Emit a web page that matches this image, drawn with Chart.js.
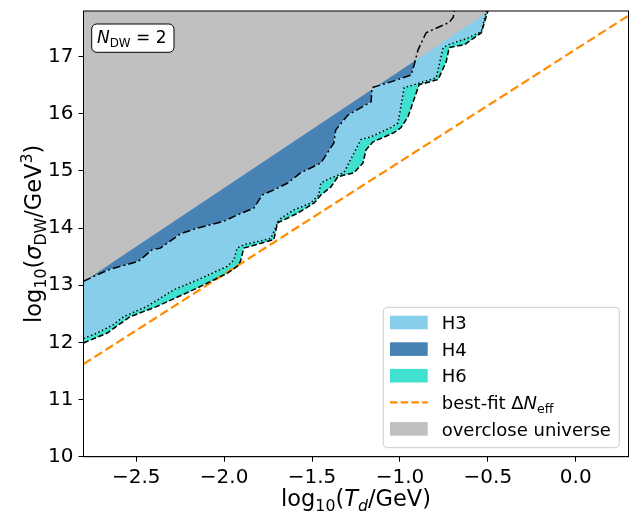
<!DOCTYPE html>
<html>
<head>
<meta charset="utf-8">
<script src="https://cdn.jsdelivr.net/npm/chart.js@4.4.0/dist/chart.umd.min.js"></script>
<style>
  html, body { margin: 0; padding: 0; background: #fff; }
</style>
</head>
<body>
<canvas id="chart" width="633" height="516"></canvas>
<script>
// axis ranges and ticks
const xRange = [-2.8, 0.3];
const yRange = [10, 17.8];
const xTicks = [-2.5, -2.0, -1.5, -1.0, -0.5, 0.0];
const yTicks = [10, 11, 12, 13, 14, 15, 16, 17];

// upper edge of H3 (dash-dot)
const dashDotX = [-2.80, -2.725, -2.649, -2.487, -2.411, -2.363, -2.249, -2.154, -2.002, -1.926,
  -1.831, -1.783, -1.717, -1.638, -1.564, -1.450, -1.376, -1.365, -1.296, -1.262,
  -1.164, -1.159, -1.051, -0.936, -0.919, -0.897, -0.851, -0.720, -0.697, -0.688];
const dashDotY = [13.07, 13.18, 13.28, 13.42, 13.62, 13.65, 13.90, 14.00, 14.12, 14.23,
  14.35, 14.58, 14.67, 14.79, 14.97, 15.14, 15.49, 15.72, 15.98, 16.04,
  16.21, 16.46, 16.56, 16.68, 16.86, 17.12, 17.42, 17.60, 17.69, 17.85];

// lower edge of H3 / upper edge of H6 (dotted)
const dottedX = [-2.80, -2.725, -2.630, -2.573, -2.439, -2.287, -2.154, -1.983, -1.945, -1.926,
  -1.888, -1.735, -1.717, -1.688, -1.603, -1.507, -1.462, -1.450, -1.412, -1.319,
  -1.222, -1.164, -1.051, -1.011, -0.976, -0.919, -0.794, -0.754, -0.725, -0.611,
  -0.537, -0.520, -0.505];
const dottedY = [12.07, 12.16, 12.31, 12.45, 12.63, 12.92, 13.09, 13.33, 13.44, 13.65,
  13.71, 13.82, 13.94, 14.15, 14.32, 14.44, 14.58, 14.79, 14.85, 14.97,
  15.55, 15.60, 15.76, 15.84, 16.46, 16.51, 16.63, 17.16, 17.21, 17.33,
  17.44, 17.65, 17.85];

// lower edge of H6 (dashed)
const dashedX = [-2.80, -2.668, -2.535, -2.382, -2.154, -1.983, -1.926, -1.907, -1.888, -1.717,
  -1.697, -1.583, -1.488, -1.450, -1.393, -1.353, -1.262, -1.210, -1.193, -1.153,
  -1.034, -0.994, -0.954, -0.891, -0.783, -0.737, -0.720, -0.634, -0.537, -0.495];
const dashedY = [11.99, 12.16, 12.45, 12.63, 12.95, 13.21, 13.33, 13.42, 13.65, 13.80,
  14.09, 14.26, 14.44, 14.58, 14.72, 14.90, 14.97, 15.14, 15.37, 15.51,
  15.67, 15.76, 15.95, 16.51, 16.60, 16.91, 17.16, 17.21, 17.42, 17.85];

// overclosure bound and best-fit dNeff line
const overX = [-2.8, -0.3];
const overY = [13.06, 18.19];
const fitX = [-2.8, 0.3];
const fitY = [11.62, 17.72];

const FONT = '"DejaVu Sans", sans-serif';

function pts(xs, ys) {
  return xs.map((x, i) => ({ x: x, y: ys[i] }));
}
// closed polygon: lower edge left->right, then upper edge back
function band(lower, upper) {
  return lower.concat(upper.slice().reverse());
}
const skyLine = (x0, x1) => [{ x: x0, y: yRange[1] + 1 }, { x: x1, y: yRange[1] + 1 }];

const dashDot = pts(dashDotX, dashDotY);
const dotted = pts(dottedX, dottedY);
const dashed = pts(dashedX, dashedY);
const over = pts(overX, overY);

function lineSet(data, color, dash, width) {
  return {
    data: data, showLine: true, fill: false, borderColor: color, borderWidth: width,
    borderDash: dash, pointRadius: 0, tension: 0, order: 0
  };
}
function areaSet(data, color, order) {
  return {
    data: data, showLine: true, fill: 'shape', backgroundColor: color, borderWidth: 0,
    borderColor: 'rgba(0,0,0,0)', pointRadius: 0, tension: 0, order: order
  };
}

function fontFor(p, size) {
  const s = (p.sub || p.sup) ? size * 0.7 : size;
  return (p.it ? 'italic ' : '') + s + 'px ' + FONT;
}
function richWidth(ctx, parts, size) {
  let w = 0;
  parts.forEach(p => { ctx.font = fontFor(p, size); w += ctx.measureText(p.t).width; });
  return w;
}
function drawRich(ctx, parts, x, y, size) {
  let cx = x;
  parts.forEach(p => {
    ctx.font = fontFor(p, size);
    const dy = p.sub ? size * 0.22 : (p.sup ? -size * 0.42 : 0);
    ctx.fillText(p.t, cx, y + dy);
    cx += ctx.measureText(p.t).width;
  });
}
function roundRect(ctx, x, y, w, h, r) {
  ctx.beginPath();
  ctx.moveTo(x + r, y);
  ctx.arcTo(x + w, y, x + w, y + h, r);
  ctx.arcTo(x + w, y + h, x, y + h, r);
  ctx.arcTo(x, y + h, x, y, r);
  ctx.arcTo(x, y, x + w, y, r);
  ctx.closePath();
}

const xTitle = [{ t: 'log' }, { t: '10', sub: 1 }, { t: '(' }, { t: 'T', it: 1 }, { t: 'd', it: 1, sub: 1 }, { t: '/GeV)' }];
const yTitle = [{ t: 'log' }, { t: '10', sub: 1 }, { t: '(' }, { t: 'σ', it: 1 }, { t: 'DW', sub: 1 }, { t: '/GeV' }, { t: '3', sup: 1 }, { t: ')' }];
const boxText = [{ t: 'N', it: 1 }, { t: 'DW', sub: 1 }, { t: ' = 2' }];

const legendItems = [
  { label: [{ t: 'H3' }], color: '#87CEEB', type: 'patch' },
  { label: [{ t: 'H4' }], color: '#4682B4', type: 'patch' },
  { label: [{ t: 'H6' }], color: '#40E0D0', type: 'patch' },
  { label: [{ t: 'best-fit Δ' }, { t: 'N', it: 1 }, { t: 'eff', sub: 1 }], color: '#FF8C00', type: 'line' },
  { label: [{ t: 'overclose universe' }], color: '#C0C0C0', type: 'patch' }
];

const decorations = {
  id: 'decorations',
  afterDraw(chart) {
    const ctx = chart.ctx;
    const a = chart.chartArea;
    ctx.save();
    // frame
    ctx.strokeStyle = '#000';
    ctx.lineWidth = 1;
    ctx.strokeRect(a.left, a.top, a.right - a.left, a.bottom - a.top);

    ctx.fillStyle = '#000';
    ctx.textBaseline = 'alphabetic';
    // x title
    const xs = 22.5;
    const xw = richWidth(ctx, xTitle, xs);
    drawRich(ctx, xTitle, (a.left + a.right) / 2 - xw / 2, 506, xs);
    // y title
    const yw = richWidth(ctx, yTitle, xs);
    ctx.save();
    ctx.translate(41, (a.top + a.bottom) / 2);
    ctx.rotate(-Math.PI / 2);
    drawRich(ctx, yTitle, -yw / 2, 0, xs);
    ctx.restore();

    // N_DW box
    roundRect(ctx, a.left + 8.2, a.top + 13, 82.3, 28.3, 5);
    ctx.fillStyle = '#fff';
    ctx.fill();
    ctx.strokeStyle = '#000';
    ctx.lineWidth = 1;
    ctx.stroke();
    ctx.fillStyle = '#000';
    drawRich(ctx, boxText, a.left + 13.5, a.top + 32, 17);

    // legend
    const lw = 236, lh = 140.4;
    const lx = a.right - 9.2 - lw, ly = a.bottom - 9 - lh;
    roundRect(ctx, lx, ly, lw, lh, 4);
    ctx.fillStyle = 'rgba(255,255,255,0.8)';
    ctx.fill();
    ctx.strokeStyle = '#cccccc';
    ctx.stroke();
    legendItems.forEach((it, i) => {
      const cy = ly + 15.2 + i * 26.6;
      if (it.type === 'patch') {
        ctx.fillStyle = it.color;
        ctx.fillRect(lx + 6.7, cy - 6.8, 37.7, 13.6);
      } else {
        ctx.strokeStyle = it.color;
        ctx.lineWidth = 2.2;
        ctx.setLineDash([7.5, 3.2]);
        ctx.beginPath();
        ctx.moveTo(lx + 6.7, cy);
        ctx.lineTo(lx + 44.4, cy);
        ctx.stroke();
        ctx.setLineDash([]);
      }
      ctx.fillStyle = '#000';
      drawRich(ctx, it.label, lx + 58.4, cy + 6.6, 18);
    });
    ctx.restore();
  }
};

const tickText = (v, digits) => v.toFixed(digits).replace('-', '\u2212');
const noPad = s => { s.paddingTop = 0; s.paddingBottom = 0; s.paddingLeft = 0; s.paddingRight = 0; };

new Chart(document.getElementById('chart'), {
  type: 'scatter',
  data: {
    datasets: [
      lineSet(dashDot, '#000', [8, 3, 2, 3], 1.5),
      lineSet(dotted, '#000', [1.5, 2.5], 1.5),
      lineSet(dashed, '#000', [5.5, 2.5], 1.5),
      lineSet(pts(fitX, fitY), '#FF8C00', [9, 4], 2.2),
      areaSet(band(over, skyLine(overX[0], overX[1])), '#C0C0C0', 1),
      areaSet(band(dashed, dotted), '#40E0D0', 2),
      areaSet(band(dotted, dashDot), '#87CEEB', 3),
      areaSet(band(dashDot, skyLine(dashDotX[0], dashDotX[dashDotX.length - 1])), '#4682B4', 4)
    ]
  },
  options: {
    responsive: false,
    animation: false,
    events: [],
    layout: { padding: { top: 11, right: 4.5, left: 0, bottom: 0 } },
    plugins: { legend: { display: false }, tooltip: { enabled: false } },
    scales: {
      x: {
        type: 'linear', min: xRange[0], max: xRange[1],
        afterBuildTicks: s => { s.ticks = xTicks.map(v => ({ value: v })); },
        afterFit: s => { s.height = 59.3; noPad(s); },
        grid: { drawOnChartArea: false, drawTicks: true, tickLength: 5, color: '#000' },
        border: { display: true, color: '#000', width: 1 },
        ticks: {
          color: '#000', padding: 4, maxRotation: 0,
          font: { family: FONT, size: 20 },
          callback: v => tickText(v, 1)
        }
      },
      y: {
        type: 'linear', min: yRange[0], max: yRange[1],
        afterBuildTicks: s => { s.ticks = yTicks.map(v => ({ value: v })); },
        afterFit: s => { s.width = 83.5; noPad(s); },
        grid: { drawOnChartArea: false, drawTicks: true, tickLength: 5, color: '#000' },
        border: { display: true, color: '#000', width: 1 },
        ticks: {
          color: '#000', padding: 5,
          font: { family: FONT, size: 20 },
          callback: v => tickText(v, 0)
        }
      }
    }
  },
  plugins: [decorations]
});
</script>
</body>
</html>
